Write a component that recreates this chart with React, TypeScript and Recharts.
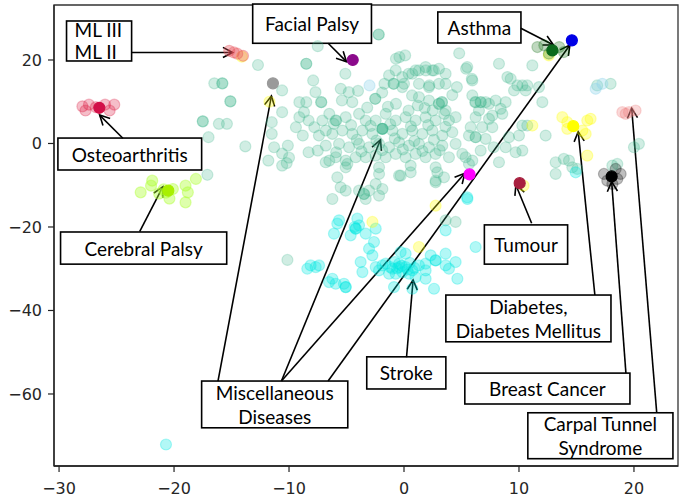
import React from 'react';
import { ScatterChart, Scatter, XAxis, YAxis, ReferenceArea, ReferenceLine } from 'recharts';

type P = [number, number];

const xTicks = [-30, -20, -10, 0, 10, 20];
const yTicks = [-60, -40, -20, 0, 20];
const xDomain: [number, number] = [-30.44, 23.83];
const yDomain: [number, number] = [-77.25, 33.17];

// Miscellaneous diseases (the big cloud)
const miscPoints: P[] = [
  [-12.7, 18.8], [-8.5, 19.1], [-8.5, 19.1], [-7.5, 23.3], [-16.5, 14.4], [-15.8, 14.4], [-15.8, 14.4],
  [-10.6, 12.7], [-7.9, 15.1], [-7.7, 12.3], [-7.2, 9.9], [-7.2, 9.9], [-15.1, 10.1], [-15.1, 10.1],
  [-9.1, 9.9], [-8.5, 9.9], [-10.6, 7.5], [-11.5, 5.1], [-11.5, 2.3], [-17.5, 5.3], [-17.5, 5.3],
  [-16.1, 4.7], [-15.4, 4.7], [-17.0, 1.5], [-13.8, -0.7], [-11.8, -4.1], [-10.6, -5.3], [-10.2, -4.7],
  [-10.1, -0.5], [-9.1, 6.3], [-8.7, 7.5], [-9.4, 3.9], [-8.3, 5.5], [-7.8, 3.9], [-7.1, 5.5], [-7.4, 1.9],
  [-6.8, 3.1], [-8.8, 1.9], [-6.5, 7.1], [-6.1, 4.7], [-5.9, 5.5], [-8.3, -2.1], [-7.5, -1.7], [-6.8, -0.5],
  [-6.5, -4.1], [-5.9, -2.1], [-17.1, -7.5], [-10.6, -2.4], [-10.0, -3.4], [-11.3, -0.9],
  [-2.2, 26.1], [-2.2, 26.1], [-5.1, 16.7], [-0.4, 20.7], [0.1, 21.1], [-0.7, 20.3], [4.8, 21.6], [5.4, 17.9],
  [5.9, 15.5], [-0.9, 14.3], [-0.9, 14.3], [-1.3, 16.3], [0.4, 16.7], [1.0, 17.5], [1.9, 17.5], [2.6, 17.5],
  [-1.7, 14.3], [0, 14.3], [2.2, 13.9], [4.6, 13.5], [-2.5, 10.7], [-2.5, 10.7], [-5.5, 13.1], [-4.8, 12.3],
  [-5.4, 10.3], [-4.5, 9.9], [-0.7, 9.5], [0.7, 11.5], [1.2, 9.1], [3.3, 9.9], [3.3, 9.9], [3.5, 7.1],
  [2.5, 7.9], [0.4, 7.9], [6.2, 9.9],
  [-5.94, 5.5], [-5.07, 6.3], [-3.91, 7.1], [-3.33, 5.5], [-2.46, 5.5], [-1.59, 7.1], [-0.72, 5.5],
  [0.14, 6.3], [1.01, 5.5], [1.88, 6.3], [2.75, 5.5], [3.91, 5.5], [4.49, 6.3], [-6.23, 2.3], [-5.36, 3.1],
  [-4.49, 2.3], [-3.62, 3.1], [-2.75, 2.3], [-1.01, 3.1], [-0.14, 2.3], [0.72, 3.1], [1.59, 2.3], [2.46, 3.1],
  [3.33, 1.9], [4.2, 2.7], [-5.65, -0.1], [-4.78, -0.9], [-3.91, -0.1], [-3.04, -0.9], [-2.17, -0.1],
  [-1.3, -0.9], [-0.43, 0.3], [0.43, -0.5], [1.3, -0.1], [2.17, -0.9], [3.33, -0.5], [4.49, -0.1],
  [5.65, 1.9], [6.23, 1.5], [-5.94, -3.3], [-5.07, -4.1], [-4.2, -3.3], [-3.33, -3.3], [-2.46, -2.9],
  [-1.59, -3.3], [-0.72, -2.5], [0.14, -3.3], [1.01, -2.5], [1.88, -3.3], [2.75, -2.5], [3.91, -3.3],
  [5.07, -2.5], [-5.07, -5.7], [-2.17, -5.7], [0.58, -5.3], [2.75, -5.7], [5.36, -3.3], [5.94, -4.1],
  [-0.29, -7.7], [2.75, -8.9], [3.48, -8.1],
  [-0.72, 17.5], [-0.15, 15.9], [0.72, 16.7], [1.3, 17.5], [1.88, 18.3], [2.46, 17.5], [3.04, 17.9],
  [3.62, 16.7], [-0.15, 13.5], [1.3, 14.3], [2.17, 13.5], [3.04, 14.3], [3.62, 14.3], [1.3, 11.1],
  [2.17, 10.3], [3.04, 9.5], [3.04, 9.5], [3.62, 7.9],
  [8.26, 19.1], [11.16, 18.7], [8.99, 15.9], [9.28, 15.5], [9.86, 13.9], [10.29, 13.9], [10.72, 13.9],
  [10.58, 12.7], [9.57, 12.7], [11.74, 13.5], [12.03, 9.9], [16.8, 13.9], [17.97, 14.3], [5.94, 15.1],
  [5.94, 11.5], [6.23, 9.9], [6.67, 9.9], [6.67, 9.9], [7.1, 9.9], [7.39, 9.5], [7.97, 10.3], [8.84, 9.9],
  [8.41, 8.3], [6.52, 7.9], [7.68, 6.7], [6.23, 6.3], [7.39, 5.9], [8.55, 7.1], [10.29, 4.3], [10.72, 4.3],
  [5.8, 3.9], [6.8, 3.9], [7.68, 3.9], [6.23, 1.5], [7.1, 1.1], [9.13, 1.5], [10.0, 1.9], [12.32, 1.9],
  [6.67, -1.7], [7.8, -0.9], [8.84, -0.9], [10.29, -1.7], [9.71, -2.1], [8.26, -4.5], [5.65, -4.9],
  [20.43, -0.1], [20.0, -0.9], [13.19, -4.5], [13.9, -3.7], [14.35, -4.1], [14.64, -5.7], [15.07, -6.1],
  [13.19, -7.3], [18.12, -5.3], [18.55, -4.9], [5.5, 18.3],
  [-5.8, -8.1], [-5.51, -10.5], [-6.23, -13.3], [-5.07, -11.3], [-3.91, -11.3], [-3.48, -12.1],
  [-3.48, -12.1], [-3.04, -11.3], [-2.17, -12.5], [-1.88, -10.9], [-2.46, -9.7], [-3.33, -13.3],
  [-2.17, -7.3], [-0.43, -7.7], [0.58, -6.9], [2.75, -9.3], [2.9, -6.9], [-10.14, -27.9], [3.62, -18.4],
  [4.49, -18.8], [-6.81, -4.5], [-4.93, -4.9],
  [-4.6, 4.4], [-2.9, 4.2], [-1.2, 4.6], [0.6, 4.1], [2.1, 4.4], [3.6, 4.0], [-4.1, 0.9], [-2.4, 0.7],
  [-0.8, 1.2], [0.9, 0.6], [2.6, 0.9], [-3.7, -1.9], [-1.9, -1.6], [-0.1, -1.4], [1.6, -1.8], [3.1, -1.6],
  [-3.2, 8.6], [-1.4, 8.8], [1.8, 8.5], [-4.0, 12.6], [-1.9, 12.2], [4.2, 11.6],
];
const miscHighlight: P[] = [[-1.88, 3.5]];

const lightBluePoints: P[] = [[-3.0, 13.9], [17.25, 14.3], [16.67, 13.1]];

const strokePoints: P[] = [
  [-5.8, -19.2], [-6.09, -21.6], [-5.65, -18.4], [-4.2, -20.4], [-4.2, -20.4], [-4.3, -20.0], [-3.91, -19.6],
  [-4.64, -22.0], [-3.33, -21.6], [-2.46, -20.4], [-2.61, -23.6], [-3.04, -25.2], [-4.06, -18.0],
  [-8.12, -29.2], [-7.68, -29.6], [-8.41, -30.0], [-7.39, -29.2], [-6.52, -33.2], [-5.94, -33.6],
  [-5.07, -34.4], [-5.07, -34.4], [-5.22, -33.6], [-6.23, -32.4], [-3.77, -28.4], [-3.62, -30.8],
  [-2.75, -26.8], [-2.46, -29.6], [-0.43, -29.6], [-1.59, -28.8], [-1.01, -30.0], [-0.43, -28.8],
  [0.14, -29.6], [0.72, -30.4], [1.3, -29.2], [1.88, -30.4], [-1.3, -31.2], [-0.72, -31.2], [-0.14, -30.8],
  [0.43, -31.2], [1.01, -32.0], [-2.17, -30.4], [-1.88, -29.2], [1.88, -28.8], [-0.29, -26.0], [0.14, -26.4],
  [-0.87, -34.4], [0.72, -34.8], [-0.6, -29.9], [0.3, -30.2], [-0.2, -29.3], [0.9, -29.8], [-1.2, -29.6],
  [0.5, -28.6], [-0.8, -28.4], [2.75, -28.0], [2.75, -28.0], [2.32, -26.8], [3.62, -26.4], [3.62, -29.2],
  [4.49, -28.4], [3.91, -30.0], [4.64, -32.4], [2.61, -34.8], [1.88, -32.4], [3.62, -20.8], [5.51, -13.3],
  [6.23, -24.8], [5.5, -12.9], [14.93, -6.9], [-20.7, -72.1],
];

const diabetesFaint: P[] = [
  [13.77, 6.3], [14.2, 3.5], [15.51, 3.1], [15.94, 5.5], [16.23, 5.9], [15.8, 2.3], [14.2, 5.1],
  [15.94, -2.9], [11.16, 4.3], [2.75, -14.9], [-2.75, -18.8], [1.3, -24.8], [-14.1, 20.8], [-11.7, 10.0],
  [12.6, 21.1], [10.4, -10.1],
];
const diabetesMain: P[] = [[14.72, 4.15]];

const carpalPoints: P[] = [[19.57, 7.5], [18.99, 7.5], [20.14, 7.9], [19.28, 7.1]];

const breastFaint: P[] = [[17.39, -7.3], [17.68, -8.9], [18.55, -8.5], [18.84, -7.3], [18.12, -9.7], [18.41, -6.1]];
const breastMain: P[] = [[18.06, -7.9]];

const asthmaFaint: P[] = [[11.6, 23.1], [12.2, 23.5], [13.5, 23.1], [13.9, 21.9], [12.6, 21.5]];
const asthmaMain: P[] = [[12.9, 22.3]];

const cerebralFaint: P[] = [
  [-22.9, -11.7], [-22.0, -10.1], [-21.9, -8.9], [-21.3, -12.0], [-20.4, -13.2], [-19.0, -10.1],
  [-18.8, -11.7], [-19.0, -14.1], [-18.1, -8.5], [-20.9, -11.0], [-20.1, -10.9], [-20.7, -11.8],
];
const cerebralMain: P[] = [[-20.5, -11.3]];

const osteoFaint: P[] = [[-27.97, 8.9], [-27.4, 9.3], [-26.8, 8.7], [-26.0, 9.3], [-25.2, 9.3], [-27.7, 7.9], [-25.6, 7.9]];
const osteoMain: P[] = [[-26.5, 8.55]];

const mlPoints: P[] = [[-15.2, 22.2], [-14.8, 21.8], [-14.5, 21.5], [-14.0, 21.0]];

const facialPalsy: P[] = [[-4.46, 20.0]];
const bluePoint: P[] = [[14.6, 24.7]];
const magentaPoint: P[] = [[5.7, -7.4]];
const grayPoint: P[] = [[-11.4, 14.4]];
const tumourPoint: P[] = [[10.06, -9.5]];

// Annotation boxes (data coordinates) and arrows
const boxLabels = [
  { lines: ['ML III', 'ML II'], x1: -29.35, x2: -23.69, y1: 29.34, y2: 19.76, align: 'start' },
  { lines: ['Facial Palsy'], x1: -13.16, x2: -2.83, y1: 33.4, y2: 24.0 },
  { lines: ['Asthma'], x1: 2.94, x2: 10.17, y1: 31.5, y2: 24.07 },
  { lines: ['Osteoarthritis'], x1: -30.1, x2: -17.6, y1: 1.3, y2: -6.35 },
  { lines: ['Cerebral Palsy'], x1: -29.87, x2: -15.42, y1: -21.2, y2: -28.9 },
  { lines: ['Tumour'], x1: 6.99, x2: 14.23, y1: -19.5, y2: -28.9 },
  { lines: ['Diabetes,', 'Diabetes Mellitus'], x1: 3.64, x2: 18.0, y1: -36.3, y2: -47.5 },
  { lines: ['Stroke'], x1: -3.24, x2: 3.64, y1: -51.1, y2: -58.8 },
  { lines: ['Breast Cancer'], x1: 5.29, x2: 19.65, y1: -55.0, y2: -62.4 },
  { lines: ['Carpal Tunnel', 'Syndrome'], x1: 10.77, x2: 23.39, y1: -64.5, y2: -75.5 },
  { lines: ['Miscellaneous', 'Diseases'], x1: -17.6, x2: -4.89, y1: -56.9, y2: -68.1 },
];

const arrows: [P, P][] = [
  [[-23.69, 21.8], [-14.9, 21.8]],
  [[-6.6, 24.0], [-5.0, 19.6]],
  [[10.16, 27.6], [13.0, 23.6]],
  [[-24.45, 1.25], [-26.47, 6.8]],
  [[-22.99, -21.1], [-20.97, -10.35]],
  [[11.1, -19.1], [9.73, -9.94]],
  [[16.6, -36.3], [15.15, 2.83]],
  [[0.22, -51.2], [0.79, -32.7]],
  [[19.3, -54.97], [18.06, -9.15]],
  [[21.98, -64.5], [19.8, 8.43]],
  [[-16.18, -56.9], [-11.53, 11.38]],
  [[-10.66, -56.9], [-2.05, 0.84]],
  [[-10.66, -56.9], [5.29, -7.14]],
  [[-6.6, -56.9], [14.43, 23.6]],
];

const toPts = (a: P[]) => a.map(([x, y]) => ({ x, y }));

const dot = (color: string, op: number, r = 5.5) => (props: any) => {
  if (props.cx == null || props.cy == null) return <g />;
  return (
    <circle cx={props.cx} cy={props.cy} r={r} fill={color} fillOpacity={op}
      stroke={color} strokeOpacity={op} strokeWidth={1.2} />
  );
};

const arrowShape = (p: any) => {
  const { x1, y1, x2, y2 } = p;
  if ([x1, y1, x2, y2].some((v) => v == null || isNaN(v))) return <g />;
  const ang = Math.atan2(y2 - y1, x2 - x1);
  const L = 11;
  const a = 0.48;
  const ax = x2 - L * Math.cos(ang - a);
  const ay = y2 - L * Math.sin(ang - a);
  const bx = x2 - L * Math.cos(ang + a);
  const by = y2 - L * Math.sin(ang + a);
  return (
    <g>
      <line x1={x1} y1={y1} x2={x2} y2={y2} stroke="#000" strokeWidth={1.6} />
      <polyline points={`${ax},${ay} ${x2},${y2} ${bx},${by}`} fill="none" stroke="#000" strokeWidth={1.6} />
    </g>
  );
};

const boxShape = (lines: string[], align?: string) => (p: any) => {
  const { x, y, width, height } = p;
  if ([x, y, width, height].some((v) => v == null || isNaN(v))) return <g />;
  const spacing = lines.length > 1 ? (lines[0] === 'ML III' ? 22 : 24.5) : 0;
  const cy = y + height / 2;
  const start = align === 'start';
  return (
    <g>
      <rect x={x} y={y} width={width} height={height} fill="#fff" stroke="#000" strokeWidth={1.6} />
      {lines.map((t, i) => (
        <text key={i} x={start ? x + 8 : x + width / 2} y={cy + (i - (lines.length - 1) / 2) * spacing}
          textAnchor={start ? 'start' : 'middle'} dominantBaseline="central"
          fontFamily="Lato, 'Open Sans', sans-serif" fontSize={19} fill="#000">
          {t}
        </text>
      ))}
    </g>
  );
};

const fmt = (v: number) => (v < 0 ? '\u2212' + Math.abs(v) : String(v));
const tickStyle = { fontFamily: 'DejaVu Sans', fontSize: 16, fill: '#262626' };

export default function App() {
  const series: { data: P[]; color: string; op: number }[] = [
    { data: miscPoints, color: '#3cb38c', op: 0.24 },
    { data: lightBluePoints, color: '#8fd3ea', op: 0.35 },
    { data: strokePoints, color: '#00e8e2', op: 0.3 },
    { data: diabetesFaint, color: '#ffff00', op: 0.3 },
    { data: carpalPoints, color: '#f08080', op: 0.3 },
    { data: breastFaint, color: '#000000', op: 0.25 },
    { data: asthmaFaint, color: '#006400', op: 0.25 },
    { data: cerebralFaint, color: '#adff2f', op: 0.4 },
    { data: osteoFaint, color: '#dc143c', op: 0.28 },
    { data: mlPoints, color: '#e8505a', op: 0.35 },
    { data: miscHighlight, color: '#3cb38c', op: 0.7 },
    { data: diabetesMain, color: '#ffff00', op: 1 },
    { data: breastMain, color: '#000000', op: 1 },
    { data: asthmaMain, color: '#0b6a1c', op: 1 },
    { data: cerebralMain, color: '#a8f000', op: 1 },
    { data: osteoMain, color: '#d21048', op: 1 },
    { data: facialPalsy, color: '#8b0a8b', op: 1 },
    { data: bluePoint, color: '#0000e6', op: 1 },
    { data: magentaPoint, color: '#ff00ff', op: 1 },
    { data: grayPoint, color: '#9a9a9a', op: 1 },
    { data: tumourPoint, color: '#a8203f', op: 1 },
  ];
  return (
    <div style={{ position: 'absolute', left: 0, top: 0, width: 685, height: 501, background: '#fff' }}>
      <ScatterChart width={685} height={501} margin={{ top: 5, right: 7, bottom: 5, left: 4 }}>
        <XAxis type="number" dataKey="x" domain={xDomain} ticks={xTicks} allowDataOverflow
          height={30} tickSize={6} tickMargin={11} tickFormatter={fmt} tick={tickStyle}
          axisLine={{ stroke: '#222', strokeWidth: 1.3 }} tickLine={{ stroke: '#222', strokeWidth: 1.2 }} />
        <YAxis type="number" dataKey="y" domain={yDomain} ticks={yTicks} allowDataOverflow
          width={50} tickSize={6} tickMargin={6} tickFormatter={fmt} tick={tickStyle}
          axisLine={{ stroke: '#222', strokeWidth: 1.3 }} tickLine={{ stroke: '#222', strokeWidth: 1.2 }} />
        {series.map((s, i) => (
          <Scatter key={i} data={toPts(s.data)} isAnimationActive={false} shape={dot(s.color, s.op)} />
        ))}
        <ReferenceArea x1={xDomain[0]} x2={xDomain[1]} y1={yDomain[0]} y2={yDomain[1]}
          ifOverflow="visible" fill="none" stroke="#333" strokeWidth={1.3} fillOpacity={0} />
        {arrows.map((a, i) => (
          <ReferenceLine key={'a' + i} segment={[{ x: a[0][0], y: a[0][1] }, { x: a[1][0], y: a[1][1] }]}
            ifOverflow="visible" shape={arrowShape} />
        ))}
        {boxLabels.map((b, i) => (
          <ReferenceArea key={'b' + i} x1={b.x1} x2={b.x2} y1={b.y1} y2={b.y2} ifOverflow="visible"
            shape={boxShape(b.lines, b.align)} />
        ))}
      </ScatterChart>
    </div>
  );
}
